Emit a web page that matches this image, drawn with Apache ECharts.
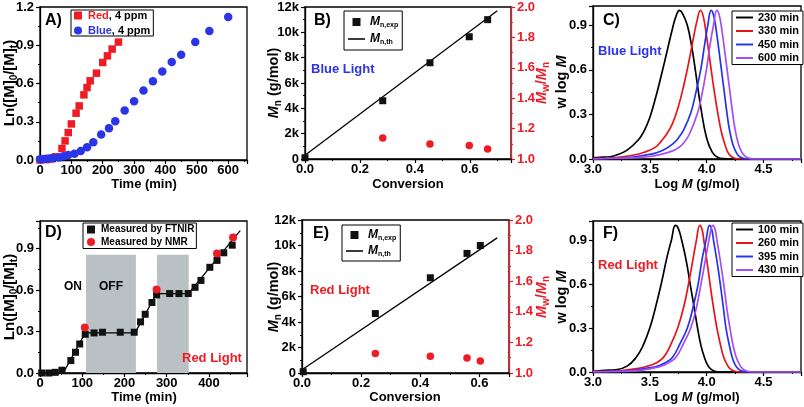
<!DOCTYPE html>
<html><head><meta charset="utf-8">
<script src="https://cdn.jsdelivr.net/npm/echarts@6/dist/echarts.min.js"></script>
<style>html,body{margin:0;padding:0;background:#fff}#c{width:804px;height:407px}</style>
</head><body><div id="c"></div>
<script>
// ---------- Panel A: kinetics (ln([M]0/[M]t) vs time) ----------
const aRedTime = [0, 20, 35, 50, 70, 80, 90, 100, 115, 125, 140, 150, 160, 180, 200, 215, 230, 250];
const aRedVal  = [0, 0.003, 0.008, 0.025, 0.09, 0.15, 0.215, 0.283, 0.367, 0.424, 0.511, 0.568, 0.621, 0.681, 0.765, 0.817, 0.87, 0.925];
const aBlueTime = [0, 10, 20, 30, 40, 60, 75, 90, 110, 130, 150, 170, 195, 220, 240, 270, 300, 330, 360, 390, 420, 450, 495, 540, 600];
const aBlueVal  = [0.005, 0.007, 0.01, 0.012, 0.015, 0.02, 0.03, 0.04, 0.05, 0.07, 0.10, 0.14, 0.20, 0.25, 0.304, 0.388, 0.461, 0.545, 0.618, 0.694, 0.768, 0.825, 0.925, 1.011, 1.121];

// ---------- Panel B: Mn / PDI vs conversion (blue light) ----------
const bConv = [0, 0.283, 0.455, 0.598, 0.665];
const bMn   = [100, 4600, 7600, 9650, 11000];
const bPdiConv = [0.283, 0.455, 0.598, 0.665];
const bPdi     = [1.138, 1.099, 1.088, 1.066];
const bThConv = [0, 0.70];
const bThMn   = [300, 11700];

// ---------- Panel C: GPC traces (blue light) ----------
const c230 = [[3.0,0.008],[3.08,0.012],[3.15,0.015],[3.2,0.025],[3.3,0.06],[3.4,0.13],[3.45,0.19],[3.5,0.28],[3.55,0.41],[3.6,0.56],[3.65,0.72],[3.7,0.88],[3.73,0.96],[3.76,1.0],[3.79,0.975],[3.83,0.9],[3.87,0.75],[3.9,0.6],[3.95,0.34],[4.0,0.14],[4.05,0.045],[4.1,0.01],[4.15,0.002],[4.2,0],[4.83,0]];
const c330 = [[3.0,0.003],[3.2,0.01],[3.35,0.025],[3.45,0.045],[3.55,0.08],[3.6,0.12],[3.65,0.17],[3.7,0.24],[3.75,0.35],[3.8,0.5],[3.85,0.68],[3.89,0.84],[3.915,0.93],[3.945,1.0],[3.97,0.96],[4.0,0.82],[4.04,0.6],[4.07,0.44],[4.1,0.3],[4.13,0.18],[4.16,0.1],[4.19,0.04],[4.22,0.015],[4.26,0.003],[4.3,0],[4.83,0]];
const c450 = [[3.0,0.001],[3.3,0.01],[3.45,0.025],[3.55,0.04],[3.62,0.06],[3.7,0.1],[3.75,0.14],[3.8,0.2],[3.86,0.31],[3.9,0.43],[3.95,0.61],[3.98,0.76],[4.01,0.9],[4.04,1.0],[4.06,0.97],[4.08,0.89],[4.13,0.6],[4.16,0.42],[4.18,0.3],[4.2,0.2],[4.23,0.1],[4.26,0.045],[4.29,0.015],[4.33,0.003],[4.37,0],[4.83,0]];
const c600 = [[3.0,0.001],[3.35,0.007],[3.5,0.017],[3.6,0.032],[3.7,0.055],[3.75,0.075],[3.8,0.11],[3.85,0.17],[3.92,0.31],[3.96,0.44],[4.0,0.61],[4.03,0.77],[4.06,0.9],[4.09,1.0],[4.11,0.97],[4.13,0.89],[4.18,0.6],[4.21,0.42],[4.23,0.3],[4.25,0.2],[4.28,0.1],[4.31,0.045],[4.34,0.018],[4.38,0.004],[4.42,0],[4.83,0]];
const cNames = ['230 min', '330 min', '450 min', '600 min'];

// ---------- Panel D: light on/off kinetics (red light) ----------
const dTime = [4, 21, 36, 52, 73, 84, 94, 107, 128, 148, 190, 223, 238, 249, 265, 276, 307, 329, 351, 367, 381, 402, 419, 435, 455];
const dVal  = [0, 0, 0.005, 0.02, 0.09, 0.15, 0.21, 0.28, 0.29, 0.295, 0.295, 0.295, 0.37, 0.425, 0.51, 0.565, 0.575, 0.575, 0.575, 0.62, 0.67, 0.765, 0.815, 0.87, 0.925];
const dNmrTime = [106, 276, 419, 457];
const dNmrVal  = [0.33, 0.605, 0.865, 0.98];
const dFitTime = [55, 107, 225, 276, 351, 474];
const dFitVal  = [0, 0.29, 0.29, 0.575, 0.575, 1.03];
const dOffStart = [109, 277];
const dOffEnd   = [227, 352];
const dOffTop = 0.855;

// ---------- Panel E: Mn / PDI vs conversion (red light) ----------
const eConv = [0.004, 0.248, 0.434, 0.558, 0.603];
const eMn   = [100, 4660, 7470, 9380, 10000];
const ePdiConv = [0.248, 0.434, 0.558, 0.603];
const ePdi     = [1.127, 1.109, 1.098, 1.079];
const eThConv = [0, 0.66];
const eThMn   = [260, 10600];

// ---------- Panel F: GPC traces (red light) ----------
const f100 = [[3.0,0.005],[3.05,0.008],[3.1,0.012],[3.2,0.015],[3.3,0.04],[3.38,0.1],[3.44,0.18],[3.5,0.3],[3.55,0.44],[3.6,0.6],[3.65,0.78],[3.69,0.9],[3.725,1.0],[3.75,0.98],[3.78,0.9],[3.82,0.76],[3.855,0.6],[3.89,0.44],[3.92,0.3],[3.95,0.18],[3.98,0.1],[4.01,0.045],[4.04,0.018],[4.08,0.003],[4.12,0],[4.83,0]];
const f260 = [[3.0,0.002],[3.15,0.005],[3.25,0.01],[3.4,0.025],[3.48,0.04],[3.55,0.06],[3.62,0.1],[3.68,0.18],[3.745,0.3],[3.8,0.45],[3.84,0.6],[3.88,0.77],[3.91,0.9],[3.94,1.0],[3.96,0.97],[3.975,0.9],[4.0,0.77],[4.03,0.6],[4.06,0.44],[4.09,0.3],[4.12,0.19],[4.15,0.1],[4.18,0.05],[4.21,0.02],[4.25,0.005],[4.29,0],[4.83,0]];
const f395 = [[3.0,0.001],[3.2,0.004],[3.35,0.01],[3.47,0.025],[3.57,0.04],[3.64,0.065],[3.7,0.1],[3.77,0.2],[3.83,0.3],[3.88,0.44],[3.925,0.6],[3.96,0.77],[3.995,0.9],[4.025,1.0],[4.045,0.97],[4.06,0.9],[4.09,0.76],[4.12,0.6],[4.15,0.42],[4.17,0.3],[4.2,0.18],[4.225,0.1],[4.25,0.05],[4.28,0.02],[4.32,0.004],[4.36,0],[4.83,0]];
const f430 = [[3.0,0.001],[3.25,0.004],[3.4,0.01],[3.52,0.025],[3.6,0.04],[3.67,0.065],[3.73,0.1],[3.8,0.2],[3.86,0.3],[3.91,0.44],[3.95,0.6],[3.99,0.77],[4.02,0.9],[4.055,1.0],[4.075,0.97],[4.09,0.9],[4.12,0.76],[4.15,0.6],[4.18,0.42],[4.205,0.3],[4.23,0.19],[4.26,0.1],[4.29,0.05],[4.32,0.02],[4.36,0.005],[4.4,0],[4.83,0]];
const fNames = ['100 min', '260 min', '395 min', '430 min'];

// ---------- styling ----------
const FONT = "'Liberation Sans', Arial, sans-serif";
const RED = '#ee1c24', BLUE = '#2b35e8', PURPLE = '#a64df2', BLACK = '#000';
const GPC_COLORS = [BLACK, '#e8141c', '#2233ee', PURPLE];
const SQ = 'path://M0,0L10,0L10,10L0,10Z';
const LN = 'path://M0,0L20,0L20,1.8L0,1.8Z';
const LN2 = 'path://M0,0L20,0L20,2.3L0,2.3Z';
const zip = (a, b) => a.map((v, i) => [v, b[i]]);
const f1 = v => v.toFixed(1);
const kfmt = v => v === 0 ? '0' : (v / 1000) + 'k';

function grid(left, top, width, height) {
  return { left, top, width, height, show: true, borderColor: '#000', borderWidth: 1.3,
           containLabel: false, outerBoundsMode: 'none' };
}
function axis(kind, gi, min, max, interval, fmt, hideMax, extra) {
  const color = (extra && extra.color) || '#000';
  const a = {
    type: 'value', gridIndex: gi, min, max, interval,
    axisLine: { show: true, onZero: false, lineStyle: { color, width: 1.3 } },
    axisTick: { show: true, inside: false, length: 4, lineStyle: { color, width: 1.2 } },
    minorTick: { show: true, splitNumber: 2, length: 2, lineStyle: { color, width: 1 } },
    splitLine: { show: false }, minorSplitLine: { show: false },
    axisLabel: { color, fontFamily: FONT, fontWeight: 'bold', fontSize: 13,
                 margin: kind === 'x' ? 4 : 6, formatter: fmt, showMaxLabel: !hideMax, showMinLabel: true, interval: 0, hideOverlap: false }
  };
  if (extra && extra.position) a.position = extra.position;
  return a;
}

const grids = [
  grid(40, 7, 207, 153),    // A
  grid(305, 7, 206, 152),   // B
  grid(593, 6, 208, 153),   // C
  grid(40, 221, 207, 152),  // D
  grid(302, 220, 207, 153), // E
  grid(593, 221, 208, 151)  // F
];
const xAxes = [
  axis('x', 0, 0, 660, 100, v => String(v), true),
  axis('x', 1, 0, 0.75, 0.2, f1, true),
  axis('x', 2, 3.0, 4.83, 0.5, f1, true),
  axis('x', 3, 0, 490, 100, v => String(v), true),
  axis('x', 4, 0, 0.7, 0.2, f1, true),
  axis('x', 5, 3.0, 4.83, 0.5, f1, true)
];
const yAxes = [
  axis('y', 0, 0, 1.2, 0.3, f1, false),
  axis('y', 1, 0, 12000, 2000, kfmt, false),
  axis('y', 1, 1.0, 2.0, 0.2, f1, false, { position: 'right', color: RED }),
  axis('y', 2, 0, 1.03, 0.3, f1, true),
  axis('y', 3, 0, 1.1, 0.3, f1, true),
  axis('y', 4, 0, 12000, 2000, kfmt, false),
  axis('y', 4, 1.0, 2.0, 0.2, f1, false, { position: 'right', color: RED }),
  axis('y', 5, 0, 1.03, 0.3, f1, true)
];

function scatter(name, xi, yi, data, symbol, size, color, z) {
  return { type: 'scatter', name, xAxisIndex: xi, yAxisIndex: yi, data, symbol, symbolSize: size,
           itemStyle: { color, opacity: 1 }, z: z || 3, silent: true, clip: false };
}
function line(name, xi, yi, data, color, width, smooth) {
  return { type: 'line', name, xAxisIndex: xi, yAxisIndex: yi, data, symbol: 'none', showSymbol: false,
           smooth: smooth ? 0.45 : false,
           lineStyle: { color, width }, itemStyle: { color }, z: 2, silent: true, clip: true };
}

const series = [
  // A
  scatter('Red, 4 ppm', 0, 0, zip(aRedTime, aRedVal), 'rect', 7.5, RED),
  scatter('Blue, 4 ppm', 0, 0, zip(aBlueTime, aBlueVal), 'circle', 8.5, BLUE, 4),
  // B
  line('B_th', 1, 1, zip(bThConv, bThMn), BLACK, 1.3, false),
  scatter('B_exp', 1, 1, zip(bConv, bMn), 'rect', 7, '#111'),
  scatter('B_pdi', 1, 2, zip(bPdiConv, bPdi), 'circle', 7.5, RED),
  // C
  ...[c230, c330, c450, c600].map((d, i) => line(cNames[i], 2, 3, d, GPC_COLORS[i], 1.7, true)),
  // D
  { type: 'scatter', name: 'D_off', xAxisIndex: 3, yAxisIndex: 4, data: [], z: 1, silent: true,
    markArea: { silent: true, itemStyle: { color: '#b9c1c5', opacity: 1 }, label: { show: false },
      data: dOffStart.map((s, i) => [{ xAxis: s, yAxis: 0 }, { xAxis: dOffEnd[i], yAxis: dOffTop }]) } },
  line('D_fit', 3, 4, zip(dFitTime, dFitVal), BLACK, 1.3, false),
  scatter('Measured by FTNIR', 3, 4, zip(dTime, dVal), 'rect', 7, '#111'),
  scatter('Measured by NMR', 3, 4, zip(dNmrTime, dNmrVal), 'circle', 8, RED, 4),
  // E
  line('E_th', 4, 5, zip(eThConv, eThMn), BLACK, 1.3, false),
  scatter('E_exp', 4, 5, zip(eConv, eMn), 'rect', 7, '#111'),
  scatter('E_pdi', 4, 6, zip(ePdiConv, ePdi), 'circle', 7.5, RED),
  // F
  ...[f100, f260, f395, f430].map((d, i) => line(fNames[i], 5, 7, d, GPC_COLORS[i], 1.7, true))
];

const B = (size, extra) => Object.assign({ fontFamily: FONT, fontWeight: 'bold', fontSize: size, color: '#000' }, extra || {});
function legend(left, top, data, opt) {
  return Object.assign({
    left, top, orient: 'vertical', data, selectedMode: false,
    borderColor: '#000', borderWidth: 1, borderRadius: 0, backgroundColor: '#fff',
    itemWidth: 17, itemHeight: 8, inactiveColor: '#000', symbolKeepAspect: true
  }, opt);
}
const mnRich = {
  i: B(12, { fontStyle: 'italic', lineHeight: 14 }),
  s: B(7, { verticalAlign: 'bottom', lineHeight: 9 })
};
const legends = [
  legend(71, 10, [{ name: 'Red, 4 ppm', icon: SQ }, { name: 'Blue, 4 ppm', icon: 'circle' }], {
    padding: [0, 3, 0, 3], itemGap: 4, itemWidth: 10, itemHeight: 8,
    formatter: n => n.indexOf('Red') === 0 ? '{r|Red}{k|, 4 ppm}' : '{b|Blue}{k|, 4 ppm}',
    textStyle: B(11, { lineHeight: 11, rich: { r: B(11, { color: RED, lineHeight: 11 }), b: B(11, { color: BLUE, lineHeight: 11 }), k: B(11, { lineHeight: 11 }) } })
  }),
  legend(344, 11, [{ name: 'B_exp', icon: SQ }, { name: 'B_th', icon: LN }], {
    padding: [4, 4, 4, 4], itemGap: 3,
    formatter: n => n.indexOf('exp') > 0 ? '{i|M}{s|n,exp}' : '{i|M}{s|n,th}',
    textStyle: B(12, { lineHeight: 14, rich: mnRich })
  }),
  legend(732, 11, cNames.map(n => ({ name: n, icon: LN2 })), { padding: [1, 4, 1, 4], itemGap: 2.5, textStyle: B(11, { lineHeight: 11 }) }),
  legend(83, 223, [{ name: 'Measured by FTNIR', icon: SQ }, { name: 'Measured by NMR', icon: 'circle' }], {
    padding: [1, 2, 1, 4], itemGap: 1.5, itemWidth: 10, itemHeight: 8, textStyle: B(10, { lineHeight: 11 })
  }),
  legend(342, 225, [{ name: 'E_exp', icon: SQ }, { name: 'E_th', icon: LN }], {
    padding: [3, 4, 3, 4], itemGap: 2,
    formatter: n => n.indexOf('exp') > 0 ? '{i|M}{s|n,exp}' : '{i|M}{s|n,th}',
    textStyle: B(12, { lineHeight: 14, rich: mnRich })
  }),
  legend(732, 223, fNames.map(n => ({ name: n, icon: LN2 })), { padding: [1, 4, 1, 4], itemGap: 2.5, textStyle: B(11, { lineHeight: 11 }) })
];

// ---------- free texts ----------
function rich(color, size) {
  const base = { fontFamily: FONT, fontWeight: 'bold', fill: color, color };
  const sub = Math.round(size * 0.68);
  return {
    n: Object.assign({ fontSize: size, lineHeight: size + 4 }, base),
    i: Object.assign({ fontSize: size, lineHeight: size + 4, fontStyle: 'italic' }, base),
    s: Object.assign({ fontSize: sub, lineHeight: sub + 1, verticalAlign: 'bottom' }, base)
  };
}
function txt(x, y, text, o) {
  o = o || {};
  const color = o.color || '#000';
  const size = o.size || 13;
  const st = { text, fill: color, font: 'bold ' + size + 'px ' + FONT,
               align: o.align || 'center', textAlign: o.align || 'center',
               verticalAlign: 'middle', textVerticalAlign: 'middle' };
  if (o.rich) st.rich = rich(color, size);
  return { type: 'text', x, y, rotation: o.rot ? Math.PI / 2 : 0, z: 100, silent: true, style: st };
}
const lnTitle = '{n|Ln([M]}{s|0}{n|/[M]}{s|t}{n|)}';
const mnTitle = '{i|M}{s|n}{n| (g/mol)}';
const pdiTitle = '{i|M}{s|w}{n|/}{i|M}{s|n}';
const wTitle = '{n|w log }{i|M}';
const logTitle = '{n|Log }{i|M}{n| (g/mol)}';
const graphics = [
  // A
  txt(10, 83, lnTitle, { rot: true, rich: true, size: 15 }),
  txt(144, 184, 'Time (min)'),
  txt(45, 21, 'A)', { size: 16, align: 'left' }),
  // B
  txt(274, 83, mnTitle, { rot: true, rich: true, size: 14.5 }),
  txt(542, 83, pdiTitle, { rot: true, rich: true, color: RED, size: 14.5 }),
  txt(408, 184, 'Conversion'),
  txt(314, 21, 'B)', { size: 16, align: 'left' }),
  txt(311, 69, 'Blue Light', { color: BLUE, align: 'left' }),
  // C
  txt(562, 82, wTitle, { rot: true, rich: true, size: 14.5 }),
  txt(697, 184, logTitle, { rich: true }),
  txt(603, 21, 'C)', { size: 16, align: 'left' }),
  txt(598, 51, 'Blue Light', { color: BLUE, align: 'left' }),
  // D
  txt(10, 297, lnTitle, { rot: true, rich: true, size: 15 }),
  txt(144, 397, 'Time (min)'),
  txt(45, 233, 'D)', { size: 16, align: 'left' }),
  txt(73, 287, 'ON', { size: 12 }),
  txt(111, 287, 'OFF', { size: 12 }),
  txt(182, 358, 'Red Light', { color: RED, align: 'left' }),
  // E
  txt(274, 297, mnTitle, { rot: true, rich: true, size: 14.5 }),
  txt(542, 297, pdiTitle, { rot: true, rich: true, color: RED, size: 14.5 }),
  txt(405, 397, 'Conversion'),
  txt(313, 234, 'E)', { size: 16, align: 'left' }),
  txt(310, 290, 'Red Light', { color: RED, align: 'left' }),
  // F
  txt(562, 297, wTitle, { rot: true, rich: true, size: 14.5 }),
  txt(697, 397, logTitle, { rich: true }),
  txt(603, 234, 'F)', { size: 16, align: 'left' }),
  txt(598, 265, 'Red Light', { color: RED, align: 'left' })
];

const chart = echarts.init(document.getElementById('c'), null, { renderer: 'canvas' });
chart.setOption({
  animation: false,
  backgroundColor: '#fff',
  textStyle: { fontFamily: FONT },
  grid: grids, xAxis: xAxes, yAxis: yAxes, series, legend: legends, graphic: graphics,
  tooltip: { show: false }
});
</script></body></html>
